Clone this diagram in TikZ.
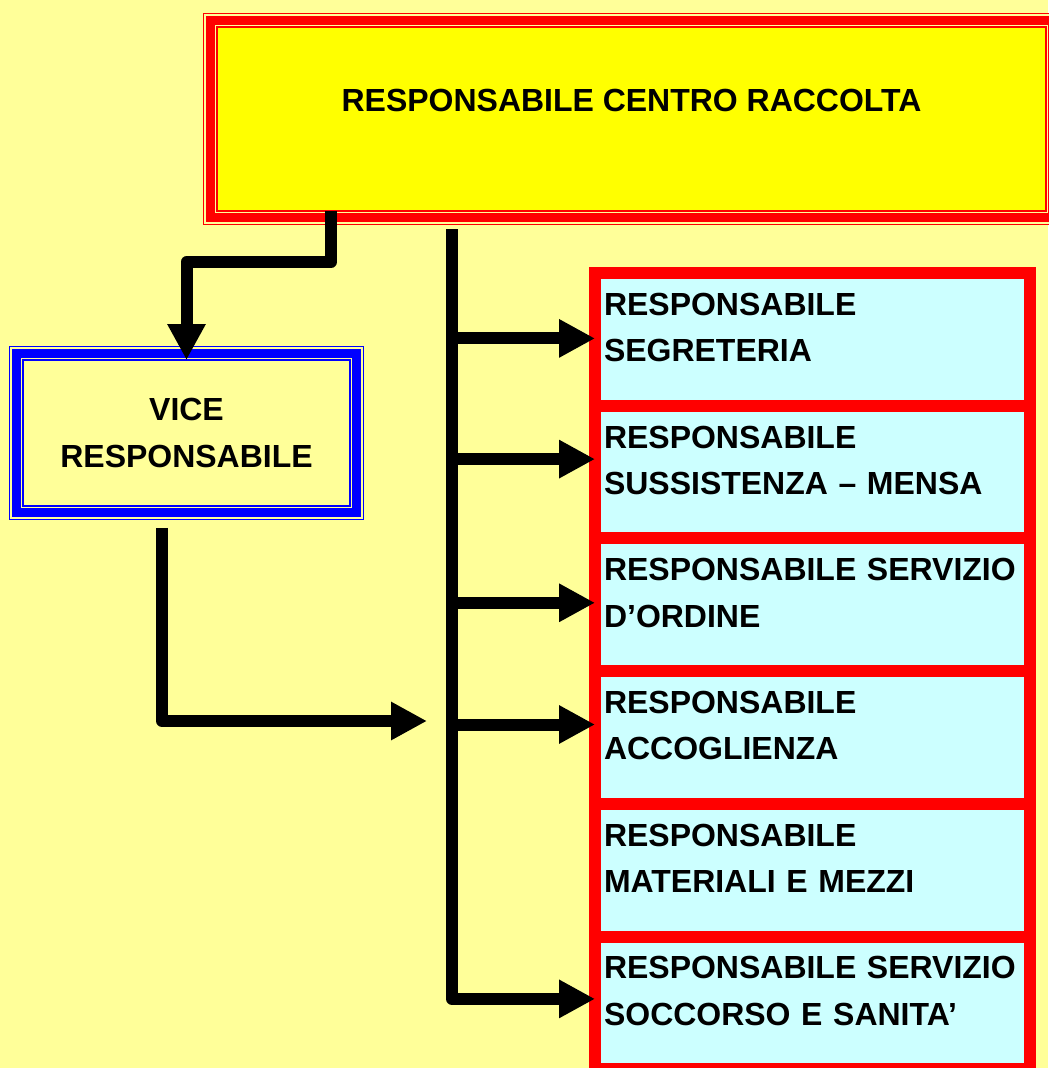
\documentclass[tikz,border=0pt]{standalone}
\usepackage{fontspec}
\setmainfont{Liberation Sans}
\usetikzlibrary{arrows.meta,calc}

\definecolor{sfondo}{HTML}{FFFF99}
\definecolor{giallo}{HTML}{FFFF00}
\definecolor{ciano}{HTML}{CCFFFF}
\definecolor{rosso}{HTML}{FF0000}
\definecolor{blu}{HTML}{0000FF}

\tikzset{
  testo/.style={font=\bfseries\fontsize{18.2pt}{26.5pt}\selectfont},
  cornice/.style={testo, draw=#1, line width=0.04cm, outer sep=0pt, inner sep=0pt, align=center,
    preaction={draw=#1, line width=0.572cm},
    preaction={draw=sfondo, line width=0.52cm},
    preaction={draw=#1, line width=0.44cm},
    preaction={draw=sfondo, line width=0.08cm}},
  casella/.style={testo, draw=rosso, fill=ciano, line width=0.24cm, outer sep=0pt,
    minimum width=8.7cm, minimum height=2.654cm, inner xsep=0.18cm, text width=8.34cm,
    align=left, text depth=1.41cm},
  freccia/.style={line width=0.24cm, line join=round, -{Triangle[length=0.72cm,width=0.72cm]}}
}

\begin{document}
\begin{tikzpicture}[x=0.02cm, y=-0.02cm]
\path[use as bounding box, fill=sfondo] (0,0) rectangle (1048,1068);

\node[cornice=rosso, fill=giallo, minimum width=16.58cm, minimum height=3.68cm, text depth=0.76cm] (capo) at (631.5,119) {RESPONSABILE CENTRO RACCOLTA};
\node[cornice=blu, fill=sfondo, minimum width=6.54cm, minimum height=2.92cm] (vice) at (186.5,433) {VICE\\RESPONSABILE};

\node[casella] (segreteria) at (812.5,339.4) {RESPONSABILE\\SEGRETERIA};
\node[casella] (mensa) at (812.5,472.1) {RESPONSABILE\\SUSSISTENZA – MENSA};
\node[casella] (ordine) at (812.5,604.8) {RESPONSABILE SERVIZIO\\D’ORDINE};
\node[casella] (accoglienza) at (812.5,737.5) {RESPONSABILE\\ACCOGLIENZA};
\node[casella] (materiali) at (812.5,870.2) {RESPONSABILE\\MATERIALI E MEZZI};
\node[casella] (soccorso) at (812.5,1002.9) {RESPONSABILE SERVIZIO\\SOCCORSO E SANITA’};

\coordinate (stam) at (452,229);
\coordinate (ingresso) at (427,721);

\draw[freccia] ([xshift=2.28cm]capo.south west) -- ++(0,51) -| (vice.north);
\draw[freccia] ([shift={(139,22)}]vice.south west) |- (ingresso);
\draw[freccia] (stam) |- ($(soccorso.west)+(0,-4)$);
\draw[freccia] ($(stam |- segreteria.west)+(0,-1)$) -- ($(segreteria.west)+(0,-1)$);
\draw[freccia] ($(stam |- mensa.west)+(0,-13)$) -- ($(mensa.west)+(0,-13)$);
\draw[freccia] ($(stam |- ordine.west)+(0,-2)$) -- ($(ordine.west)+(0,-2)$);
\draw[freccia] ($(stam |- accoglienza.west)+(0,-13)$) -- ($(accoglienza.west)+(0,-13)$);
\end{tikzpicture}
\end{document}
